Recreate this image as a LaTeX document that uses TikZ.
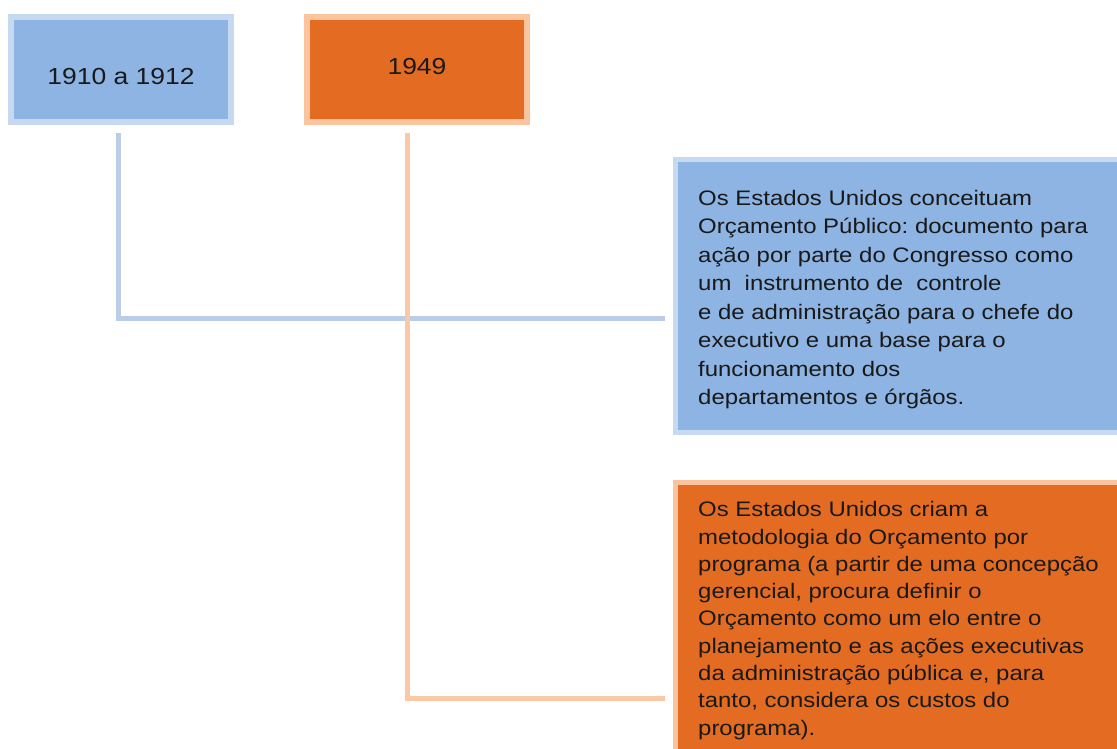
\documentclass[tikz,border=0pt]{standalone}
\usepackage{fontspec}
\setmainfont{Liberation Sans}[FakeStretch=1.14]
\frenchspacing
\definecolor{bfill}{RGB}{141,180,226}
\definecolor{bborder}{RGB}{198,217,241}
\definecolor{bline}{RGB}{185,205,230}
\definecolor{ofill}{RGB}{228,108,34}
\definecolor{oborder}{RGB}{250,196,158}
\definecolor{oline}{RGB}{251,200,165}
\definecolor{txt}{RGB}{25,25,25}
\begin{document}
\begin{tikzpicture}[x=1pt,y=-1pt,
  yearbox/.style={rectangle, line width=6pt, minimum width=220pt, minimum height=105pt,
    inner sep=0pt, text=txt, text depth=0pt, font=\fontsize{23.2pt}{28pt}\selectfont},
  infobox/.style={rectangle, line width=5pt, minimum width=454.5pt, inner sep=0pt},
  infotext/.style={anchor=base west, inner sep=0pt, text=txt, font=\fontsize{21pt}{28pt}\selectfont},
  blueconn/.style={draw=bline, line width=5pt, line join=miter},
  orangeconn/.style={draw=oline, line width=5pt, line join=miter}]
\useasboundingbox (0,0) rectangle (1117,748);
\clip (0,0) rectangle (1117,748);
\fill[white] (0,0) rectangle (1117,748);

% year boxes
\node[yearbox, fill=bfill, draw=bborder, text height=29pt] (b1) at (121,69.5) {1910 a 1912};
\node[yearbox, fill=ofill, draw=oborder, text height=9pt] (b2) at (417,69.5) {1949};

% info boxes
\node[infobox, fill=bfill, draw=bborder, minimum height=273.3pt] (t1) at (902.75,295.85) {};
\node[infobox, fill=ofill, draw=oborder, minimum height=277.5pt] (t2) at (902.75,621.25) {};

\node[infotext] (t1txt) at (698,205) {\vtop{\baselineskip=28.5pt
  \hbox{Os Estados Unidos conceituam}
  \hbox{Orçamento Público: documento para}
  \hbox{ação por parte do Congresso como}
  \hbox{um\ \ instrumento de\ \ controle}
  \hbox{e de administração para o chefe do}
  \hbox{executivo e uma base para o}
  \hbox{funcionamento dos}
  \hbox{departamentos e órgãos.}}};

\node[infotext] (t2txt) at (698,516.7) {\vtop{\baselineskip=27.3pt
  \hbox{Os Estados Unidos criam a}
  \hbox{metodologia do Orçamento por}
  \hbox{programa (a partir de uma concepção}
  \hbox{gerencial, procura definir o}
  \hbox{Orçamento como um elo entre o}
  \hbox{planejamento e as ações executivas}
  \hbox{da administração pública e, para}
  \hbox{tanto, considera os custos do}
  \hbox{programa).}}};

% connector ends
\coordinate (c1) at (665,318);
\coordinate (c2) at (665,698);

\draw[blueconn] ([xshift=-3pt,yshift=-8pt]b1.south) |- (c1);
\draw[orangeconn] ([xshift=-10pt,yshift=-8pt]b2.south) |- (c2);
\end{tikzpicture}
\end{document}
